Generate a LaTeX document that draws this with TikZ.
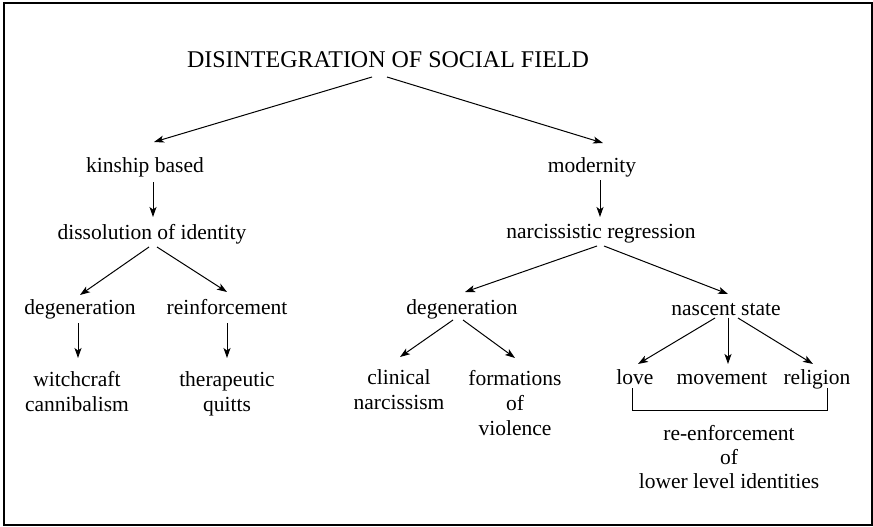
\documentclass[tikz,border=0pt]{standalone}
\usepackage{fontspec}
\setmainfont{Liberation Serif}
\usetikzlibrary{arrows.meta,calc}
\begin{document}
\begin{tikzpicture}[x=1pt,y=-1pt,
  lbl/.style={anchor=base, inner sep=0pt, font=\fontsize{21.5}{25}\selectfont, align=center},
  ttl/.style={anchor=base, inner sep=0pt, font=\fontsize{24}{28}\selectfont},
  arr/.style={-{Stealth[length=10pt,width=7pt,inset=2.5pt]}, line width=1pt},
  brk/.style={line width=0.9pt},
  frame/.style={line width=1.1pt}]
\useasboundingbox (0,0) rectangle (873,527);
\draw[frame] (4,3) rectangle (872,525);

\node[ttl] (title) at (388,67) {DISINTEGRATION OF SOCIAL FIELD};
\node[lbl] (kin)   at (145,172) {kinship based};
\node[lbl] (mod)   at (592,172) {modernity};
\node[lbl] (diss)  at (152,239) {dissolution of identity};
\node[lbl] (narc)  at (601,238) {narcissistic regression};
\node[lbl] (degL)  at (80,314)  {degeneration};
\node[lbl] (reinf) at (227,314) {reinforcement};
\node[lbl] (degR)  at (462,314) {degeneration};
\node[lbl] (nasc)  at (726,315) {nascent state};
\node[lbl] (witch) at (77,411)  {witchcraft\\cannibalism};
\node[lbl] (ther)  at (227,411) {therapeutic\\quitts};
\node[lbl] (clin)  at (399,409) {clinical\\narcissism};
\node[lbl] (form)  at (515,435) {formations\\of\\violence};
\node[lbl] (love)  at (635,384) {love};
\node[lbl] (move)  at (722,384) {movement};
\node[lbl] (reli)  at (817,384) {religion};
\node[lbl, font=\fontsize{21.5}{24}\selectfont] (reen) at (729,488) {re-enforcement\\of\\lower level identities};

\draw[arr] ($(title.base)+(-16,10)$) -- ($(kin.base)+(9,-30)$);
\draw[arr] ($(title.base)+(-1,10)$) -- ($(mod.base)+(11,-29)$);
\draw[arr] ($(kin.base)+(8,10)$) -- ($(diss.base)+(1,-22)$);
\draw[arr] ($(mod.base)+(8,8)$) -- ($(narc.base)+(-1,-21)$);
\draw[arr] ($(diss.base)+(-3,8)$) -- ($(degL.base)+(0,-19)$);
\draw[arr] ($(diss.base)+(5,8)$) -- ($(reinf.base)+(0,-22)$);
\draw[arr] ($(degL.base)+(-2,9)$) -- ($(witch.base)+(1,-53)$);
\draw[arr] ($(reinf.base)+(0,9)$) -- ($(ther.base)+(0,-53)$);
\draw[arr] ($(narc.base)+(-4,8)$) -- ($(degR.base)+(3,-22)$);
\draw[arr] ($(narc.base)+(3,8)$) -- ($(nasc.base)+(2,-21)$);
\draw[arr] ($(degR.base)+(-9,6)$) -- ($(clin.base)+(1,-52)$);
\draw[arr] ($(degR.base)+(1,6)$) -- ($(form.base)+(0,-77)$);
\draw[arr] ($(nasc.base)+(-11,3)$) -- ($(love.base)+(3,-20)$);
\draw[arr] ($(nasc.base)+(2,3)$) -- ($(move.base)+(6,-20)$);
\draw[arr] ($(nasc.base)+(12,3)$) -- ($(reli.base)+(-4,-20)$);
\draw[brk] ($(love.base)+(-3,4)$) -- ($(love.base)+(-3,26)$) -| ($(reli.base)+(10,4)$);
\end{tikzpicture}
\end{document}
